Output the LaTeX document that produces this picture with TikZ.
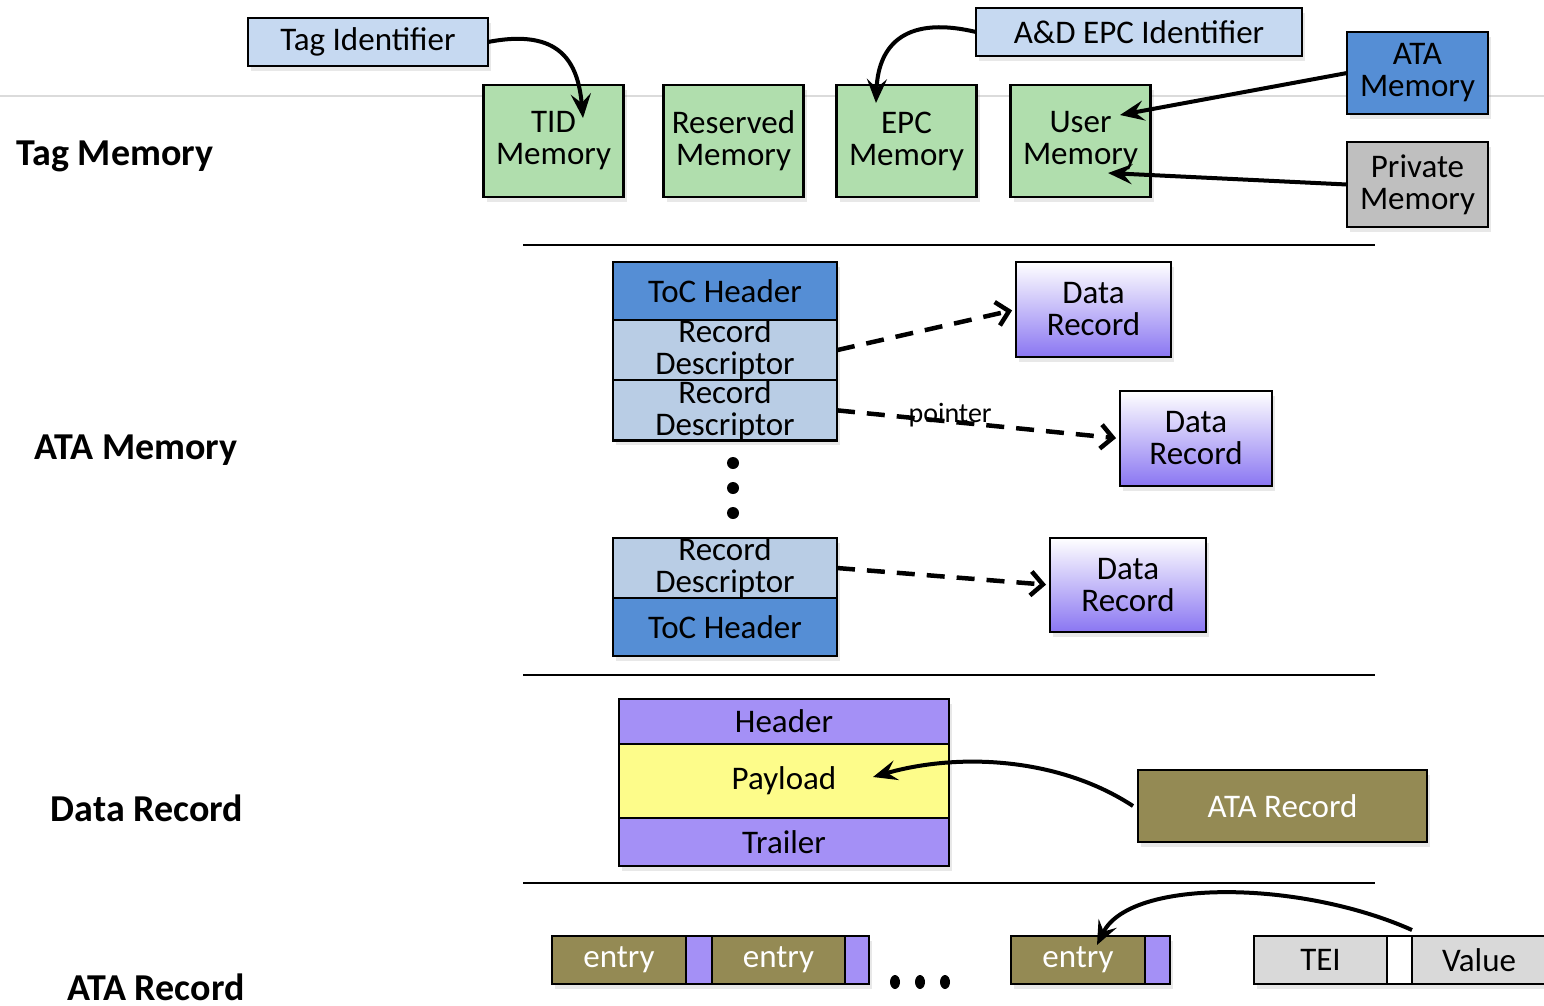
\documentclass[tikz,border=0pt]{standalone}
\usepackage{fontspec}
\setmainfont{Carlito}
\usepackage{tikz}
\usetikzlibrary{arrows.meta}
\usetikzlibrary{shadows}
\usetikzlibrary{positioning}
\definecolor{tagblue}{RGB}{198,217,241}
\definecolor{memgreen}{RGB}{176,222,173}
\definecolor{atablue}{RGB}{85,142,213}
\definecolor{rdblue}{RGB}{185,205,229}
\definecolor{privgray}{RGB}{191,191,191}
\definecolor{drpurple}{RGB}{164,144,246}
\definecolor{drbottom}{RGB}{138,118,242}
\definecolor{payyellow}{RGB}{253,252,138}
\definecolor{olive}{RGB}{148,138,84}
\definecolor{teigray}{RGB}{217,217,217}

\begin{document}
\begin{tikzpicture}[x=1pt,y=-1pt,
    box/.style={draw,line width=2.5pt,inner sep=0pt,outer sep=0pt,align=center,
      font=\fontsize{33}{32}\selectfont,
      drop shadow={shadow xshift=3pt,shadow yshift=-5pt,opacity=0.18}},
    mem node/.style={box,fill=memgreen,minimum width=140pt,minimum height=112pt},
    id node/.style={box,fill=tagblue,minimum height=48pt},
    toc node/.style={box,fill=atablue,minimum width=224pt,minimum height=58pt},
    rd node/.style={box,fill=rdblue,minimum width=224pt,minimum height=58pt},
    dr node/.style={box,top color=white,bottom color=drbottom,minimum height=95pt},
    part node/.style={box,minimum width=330pt},
    entry node/.style={box,fill=olive,text=white,minimum width=134pt,minimum height=48pt},
    sliver node/.style={box,fill=drpurple,minimum height=48pt},
    sect label/.style={font=\fontsize{38}{40}\selectfont\bfseries},
    curve arrow/.style={line width=4pt,-{Stealth[length=24pt,width=20pt,inset=9pt]}},
    ptr arrow/.style={line width=4.5pt,dash pattern=on 18pt off 12pt,-{Straight Barb[length=12pt,width=24pt]}}]
  \useasboundingbox (0,0) rectangle (1544,1005);
  \draw[line width=2pt,black!14] (0,96) -- (1544,96);
  \foreach \y in {245,675,883}
    \draw[line width=2.5pt] (523,\y) -- (1375,\y);

  % section labels
  \node[sect label] (lbltag) at (115,156) {Tag Memory};
  \node[sect label] (lblata) at (136,450) {ATA Memory};
  \node[sect label] (lbldr) at (147,808) {Data Record};
  \node[sect label] (lblrec) at (156,987) {ATA Record};

  % tag memory
  \node[id node,minimum width=240pt] (tagid) at (368,42) {Tag Identifier};
  \node[id node,minimum width=326pt] (adepc) at (1139,32) {A\&D EPC Identifier};
  \node[mem node] (tid) at (553.5,141) {TID\\Memory};
  \node[mem node] (reserved) at (733.5,141) {Reserved\\Memory};
  \node[mem node] (epc) at (906.5,141) {EPC\\Memory};
  \node[mem node] (user) at (1080.5,141) {User\\Memory};
  \node[box,fill=atablue,minimum width=141pt,minimum height=82pt] (atamem) at (1417.5,73) {ATA\\Memory};
  \node[box,fill=privgray,minimum width=141pt,minimum height=85pt] (private) at (1417.5,184.5) {Private\\Memory};
  \coordinate (tidin) at (583,118);
  \coordinate (epcin) at (876,103);
  \coordinate (userin) at (1120,115);
  \coordinate (userlow) at (1108,173);
  \draw[curve arrow] (tagid.east) .. controls (560,28) and (578,62) .. (tidin);
  \draw[curve arrow] (adepc.west) .. controls (900,14) and (878,50) .. (epcin);
  \draw[curve arrow] (atamem.west) -- (userin);
  \draw[curve arrow] (private.west) -- (userlow);

  % ATA memory
  \node[toc node] (toc1) at (725,291) {ToC Header};
  \node[rd node,below=0pt of toc1] (rd1) {Record\\Descriptor};
  \node[rd node,below=0pt of rd1] (rd2) {Record\\Descriptor};
  \foreach \y in {463,488,513}
    \fill (733,\y) circle (6pt);
  \node[rd node,minimum height=60pt] (rd3) at (725,568) {Record\\Descriptor};
  \node[toc node,below=0pt of rd3] (toc2) {ToC Header};
  \node[dr node,minimum width=155pt] (dr1) at (1093.5,309.5) {Data\\Record};
  \node[dr node,minimum width=152pt] (dr2) at (1196,438.5) {Data\\Record};
  \node[dr node,minimum width=156pt,minimum height=94pt] (dr3) at (1128,585) {Data\\Record};
  \draw[ptr arrow,shorten >=4pt] (rd1.east) -- (dr1.west);
  \draw[ptr arrow,shorten >=4pt] (rd2.east) -- node[pos=0.4,yshift=6pt,font=\fontsize{28}{30}\selectfont] {pointer} (dr2.west);
  \draw[ptr arrow,shorten >=4pt] (rd3.east) -- (dr3.west);

  % data record
  \node[part node,fill=drpurple,minimum height=45pt] (drhead) at (784,721.5) {Header};
  \node[part node,fill=payyellow,below=0pt of drhead,minimum height=74pt] (payload) {Payload};
  \node[part node,fill=drpurple,below=0pt of payload,minimum height=48pt] (trailer) {Trailer};
  \node[box,fill=olive,text=white,minimum width=289pt,minimum height=72pt] (atarec) at (1282.5,806) {ATA Record};
  \coordinate (payin) at (873,777);
  \draw[curve arrow] ([xshift=-5pt]atarec.west) .. controls (1060,758) and (960,752) .. (payin);

  % ATA record
  \node[entry node] (e1) at (619,960) {entry};
  \node[sliver node,minimum width=26pt] (s1) at (699,960) {};
  \node[entry node,minimum width=133pt] (e2) at (778.5,960) {entry};
  \node[sliver node,minimum width=24pt] (s2) at (857,960) {};
  \foreach \x in {895,920,945}
    \fill (\x,982) ellipse (5pt and 7pt);
  \node[entry node] (e3) at (1078,960) {entry};
  \node[sliver node,minimum width=25pt] (s3) at (1157.5,960) {};
  \node[box,fill=teigray,minimum width=133pt,minimum height=48pt] (tei) at (1320.5,960) {TEI};
  \node[box,fill=white,minimum width=25pt,minimum height=48pt] (gap) at (1399.5,960) {};
  \node[box,fill=teigray,minimum width=134pt,minimum height=48pt] (value) at (1479,960) {Value};
  \coordinate (entryin) at (1097,945);
  \draw[curve arrow] ([yshift=6pt]value.north west) .. controls (1300,880) and (1130,878) .. (entryin);
\end{tikzpicture}
\end{document}
